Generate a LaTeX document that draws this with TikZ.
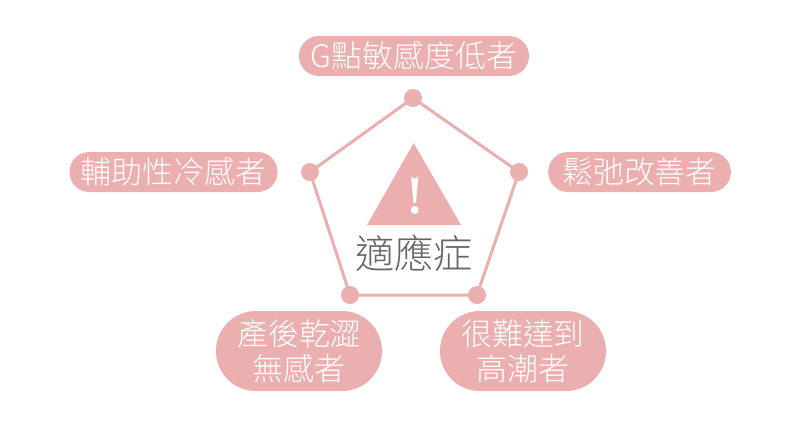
\documentclass[tikz,border=0pt]{standalone}
\usepackage{fontspec}
\setmainfont{Noto Sans CJK TC Light}[Renderer=OpenType]
\definecolor{pk}{HTML}{EBAFB0}
\definecolor{tx}{HTML}{666666}
\tikzset{
 pill/.style={fill=pk,rounded corners=#1,text=white,align=center,inner sep=0pt,font=\fontsize{23.2pt}{26pt}\selectfont},
 dot/.style={circle,fill=pk,minimum size=13.5pt,inner sep=0pt},
 edge/.style={draw=pk,line width=2.25pt}
}
\begin{document}
\begin{tikzpicture}[x=0.75pt,y=-0.75pt]
\useasboundingbox (0,0) rectangle (800,426);
\fill[white] (0,0) rectangle (800,426);
\coordinate (d1) at (413,98);
\coordinate (d2) at (519,172);
\coordinate (d3) at (477,295);
\coordinate (d4) at (350,295);
\coordinate (d5) at (310,172);
\draw[edge] (d1)--(d2)--(d3)--(d4)--(d5)--cycle;
\node[dot] at (d1) {};
\node[dot] at (d2) {};
\node[dot] at (d3) {};
\node[dot] at (d4) {};
\node[dot] at (d5) {};
\node[pill=14.9pt,minimum width=172.5pt,minimum height=30pt] (a) at (414,56) {\raisebox{-0.7pt}{G點敏感度低者}};
\node[pill=14.9pt,minimum width=156pt,minimum height=30pt] (b) at (173.5,172) {\raisebox{-0.7pt}{輔助性冷感者}};
\node[pill=14.9pt,minimum width=137pt,minimum height=30pt] (e) at (639.5,172) {\raisebox{-0.7pt}{鬆弛改善者}};
\node[pill=29.9pt,minimum width=124.5pt,minimum height=60pt] (f) at (299,351) {\raisebox{-1.5pt}{產後乾澀}\\\raisebox{-1.5pt}{無感者}};
\node[pill=29.9pt,minimum width=124.5pt,minimum height=60pt] (g) at (523,351) {\raisebox{-1.5pt}{很難達到}\\\raisebox{-1.5pt}{高潮者}};
\fill[pk] (413.7,143)--(461,225)--(367,225)--cycle;
\fill[white] (411,175) arc[start angle=180,end angle=0,radius=3.7] -- (416,203) -- (413.4,203) -- cycle;
\fill[white] (414.7,210) circle[radius=4];
\node[text=tx,font=\fontsize{29.5pt}{30pt}\selectfont] (t) at (414,253) {適應症};
\end{tikzpicture}
\end{document}
